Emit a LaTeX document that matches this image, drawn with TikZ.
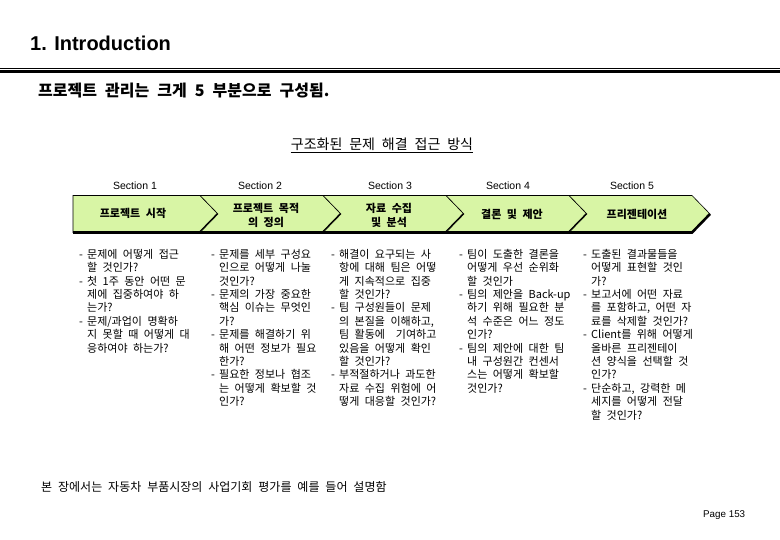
\documentclass[tikz,border=0pt]{standalone}
\usepackage{fontspec}
\setmainfont{Liberation Sans}
\newfontfamily\kr{Noto Sans CJK KR}[WordSpace=2.2]
\definecolor{chev}{RGB}{216,245,165}
\newcommand\dd{\makebox[8pt][l]{-}}
\newcommand\ct{\hspace*{8pt}}
\begin{document}
\begin{tikzpicture}[x=1pt,y=-1pt,
  colt/.style={anchor=north west, inner sep=0pt, align=left,
    font=\kr\fontsize{11}{13.4}\selectfont},
  chevtext/.style={inner sep=0pt, align=center,
    font=\kr\bfseries\fontsize{11}{14.5}\selectfont},
  seclabel/.style={anchor=base, inner sep=0pt, font=\fontsize{10.5}{12}\selectfont},
  chevshape/.style={fill=chev, draw=black, line width=0.6pt, line join=miter},
  chevedge/.style={draw=black, line width=2.6pt, line cap=butt, line join=miter}]
\useasboundingbox (0,0) rectangle (780,540);
\fill[white] (0,0) rectangle (780,540);

% title and rule
\node[anchor=base west, inner sep=0pt, font=\fontsize{20}{24}\selectfont\bfseries] (title) at (30,51) {1. Introduction};
\draw[line width=1pt] (0,68.5) -- (780,68.5);
\draw[line width=2.6pt] (0,71.8) -- (780,71.8);
\node[anchor=base west, inner sep=0pt, font=\kr\bfseries\fontsize{16}{18}\selectfont] (sub) at (38,97) {프로젝트 관리는 크게 5 부분으로 구성됨.};

% heading
\node[anchor=base, inner sep=0pt, font=\kr\fontsize{14}{16}\selectfont] (head) at (382,149.5) {구조화된 문제 해결 접근 방식};
\draw[line width=0.7pt] ([yshift=-3pt]head.base west) -- ([yshift=-3pt]head.base east);

% section labels
\node[seclabel] (s1) at (135,190) {Section 1};
\node[seclabel] (s2) at (260,190) {Section 2};
\node[seclabel] (s3) at (390,190) {Section 3};
\node[seclabel] (s4) at (508,190) {Section 4};
\node[seclabel] (s5) at (632,190) {Section 5};

% chevrons
\def\yt{195.5}\def\yb{232.5}\def\ym{214}\def\dpt{18}
\path[chevshape] (73,\yt) -- (200,\yt) -- (218,\ym) -- (200,\yb) -- (73,\yb) -- cycle;
\draw[chevedge] (73,\yb) -- (200,\yb) -- (218,\ym);
\foreach \s/\e in {200/323, 323/446, 446/569, 569/692}{
  \path[chevshape] (\s,\yt) -- (\e,\yt) -- (\e+\dpt,\ym) -- (\e,\yb) -- (\s,\yb) -- (\s+\dpt,\ym) -- cycle;
  \draw[chevedge] (\s,\yb) -- (\e,\yb) -- (\e+\dpt,\ym);
}
\node[chevtext] (c1) at (133,213.5) {프로젝트 시작};
\node[chevtext] (c2) at (266,215.5) {프로젝트 목적\\의 정의};
\node[chevtext] (c3) at (389,215.5) {자료 수집\\및 분석};
\node[chevtext] (c4) at (512,214) {결론 및 제안};
\node[chevtext] (c5) at (637,214) {프리젠테이션};

% column texts
\node[colt] (t1) at (79,249) {\dd 문제에 어떻게 접근\\ \ct 할 것인가?\\ \dd 첫 1주 동안 어떤 문\\ \ct 제에 집중하여야 하\\ \ct 는가?\\ \dd 문제/과업이 명확하\\ \ct 지 못할 때 어떻게 대\\ \ct 응하여야 하는가?};
\node[colt] (t2) at (211,249) {\dd 문제를 세부 구성요\\ \ct 인으로 어떻게 나눌\\ \ct 것인가?\\ \dd 문제의 가장 중요한\\ \ct 핵심 이슈는 무엇인\\ \ct 가?\\ \dd 문제를 해결하기 위\\ \ct 해 어떤 정보가 필요\\ \ct 한가?\\ \dd 필요한 정보나 협조\\ \ct 는 어떻게 확보할 것\\ \ct 인가?};
\node[colt] (t3) at (331,249) {\dd 해결이 요구되는 사\\ \ct 항에 대해 팀은 어떻\\ \ct 게 지속적으로 집중\\ \ct 할 것인가?\\ \dd 팀 구성원들이 문제\\ \ct 의 본질을 이해하고,\\ \ct 팀 활동에~ 기여하고\\ \ct 있음을 어떻게 확인\\ \ct 할 것인가?\\ \dd 부적절하거나 과도한\\ \ct 자료 수집 위험에 어\\ \ct 떻게 대응할 것인가?};
\node[colt] (t4) at (459,249) {\dd 팀이 도출한 결론을\\ \ct 어떻게 우선 순위화\\ \ct 할 것인가\\ \dd 팀의 제안을 Back-up\\ \ct 하기 위해 필요한 분\\ \ct 석 수준은 어느 정도\\ \ct 인가?\\ \dd 팀의 제안에 대한 팀\\ \ct 내 구성원간 컨센서\\ \ct 스는 어떻게 확보할\\ \ct 것인가?};
\node[colt] (t5) at (583,249) {\dd 도출된 결과물들을\\ \ct 어떻게 표현할 것인\\ \ct 가?\\ \dd 보고서에 어떤 자료\\ \ct 를 포함하고, 어떤 자\\ \ct 료를 삭제할 것인가?\\ \dd Client를 위해 어떻게\\ \ct 올바른 프리젠테이\\ \ct 션 양식을 선택할 것\\ \ct 인가?\\ \dd 단순하고, 강력한 메\\ \ct 세지를 어떻게 전달\\ \ct 할 것인가?};

% footer
\node[anchor=base west, inner sep=0pt, font=\kr\fontsize{12}{14}\selectfont] (foot) at (41,491) {본 장에서는 자동차 부품시장의 사업기회 평가를 예를 들어 설명함};
\node[anchor=base west, inner sep=0pt, font=\fontsize{9.8}{12}\selectfont] (page) at (703,517) {Page 153};
\end{tikzpicture}
\end{document}
